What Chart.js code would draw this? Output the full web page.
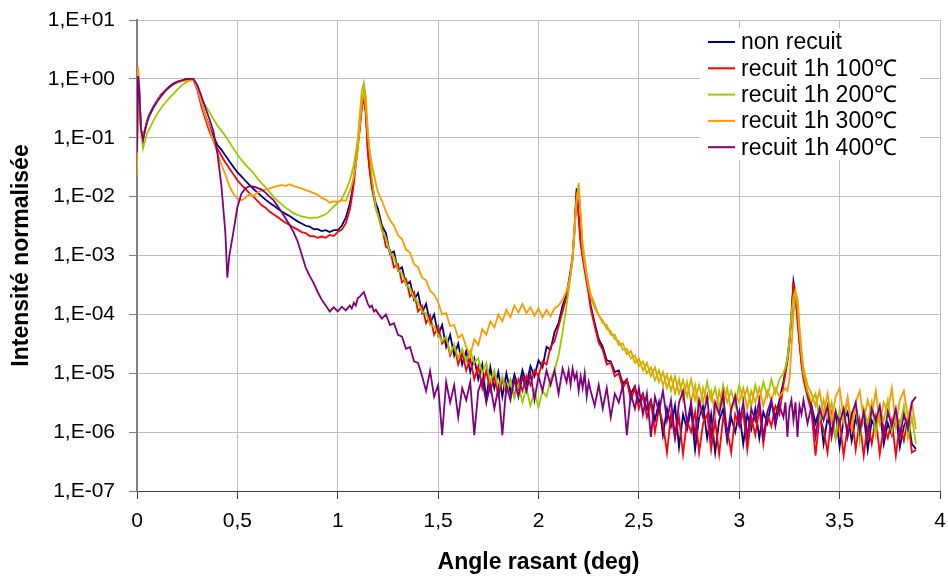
<!DOCTYPE html>
<html lang="fr">
<head>
<meta charset="utf-8">
<title>Réflectivité X – recuits</title>
<script src="https://cdn.jsdelivr.net/npm/chart.js@4.4.1/dist/chart.umd.min.js"></script>
<style>
  html, body { margin: 0; padding: 0; background: #fff; }
  #chart { display: block; }
</style>
</head>
<body>
<canvas id="chart" width="948" height="576"></canvas>
<script>
// Grazing angle (deg), shared by every curve; finer steps around the Bragg peaks
const angles = [
  0, 0.005, 0.01, 0.015, 0.02, 0.03, 0.04, 0.05,
  0.06, 0.08, 0.1, 0.12, 0.14, 0.16, 0.18, 0.2, 0.22, 0.24, 0.26, 0.28,
  0.3, 0.32, 0.34, 0.36, 0.38, 0.4, 0.42, 0.44, 0.45,
  0.46, 0.48, 0.5, 0.52, 0.54, 0.56, 0.58, 0.6,
  0.62, 0.64, 0.66, 0.68, 0.7, 0.72, 0.74, 0.76, 0.78, 0.8,
  0.82, 0.84, 0.86, 0.88, 0.9, 0.92, 0.94, 0.96, 0.98, 1,
  1.02, 1.04, 1.06,
  1.07, 1.08, 1.09, 1.1, 1.11, 1.12, 1.13, 1.14, 1.15, 1.16, 1.17, 1.18, 1.19,
  1.2, 1.22, 1.24, 1.26, 1.28, 1.3, 1.32, 1.34, 1.36, 1.38, 1.4, 1.42, 1.44, 1.46, 1.48,
  1.5, 1.52, 1.54, 1.56, 1.58, 1.6, 1.62, 1.64, 1.66, 1.68, 1.7, 1.72, 1.74, 1.76, 1.78,
  1.8, 1.82, 1.84, 1.86, 1.88, 1.9, 1.92, 1.94, 1.96, 1.98, 2, 2.02, 2.04, 2.06, 2.08, 2.1, 2.12, 2.14,
  2.15, 2.16, 2.17, 2.18, 2.19, 2.2, 2.21, 2.22, 2.23, 2.24, 2.25,
  2.26, 2.28, 2.3, 2.32, 2.34, 2.36, 2.38, 2.4, 2.42, 2.44, 2.46, 2.48, 2.5, 2.52, 2.54, 2.56, 2.58,
  2.6, 2.62, 2.64, 2.66, 2.68, 2.7, 2.72, 2.74, 2.76, 2.78, 2.8, 2.82, 2.84, 2.86, 2.88, 2.9,
  2.92, 2.94, 2.96, 2.98, 3, 3.02, 3.04, 3.06, 3.08, 3.1, 3.12, 3.14, 3.16, 3.18, 3.2, 3.22,
  3.23, 3.24, 3.25, 3.26, 3.27, 3.28, 3.29, 3.3, 3.31,
  3.32, 3.34, 3.36, 3.38, 3.4, 3.42, 3.44, 3.46, 3.48, 3.5, 3.52, 3.54, 3.56, 3.58, 3.6,
  3.62, 3.64, 3.66, 3.68, 3.7, 3.72, 3.74, 3.76, 3.78, 3.8, 3.82, 3.84, 3.86, 3.88
];

// Normalised intensity, one array per sample
const nonRecuit = [
  0.35, 1.12, 0.79, 0.32, 0.14, 0.095, 0.14, 0.19,
  0.24, 0.33, 0.43, 0.54, 0.63, 0.74, 0.83, 0.89, 0.93, 0.98, 1.0, 1.0,
  0.71, 0.4, 0.24, 0.16, 0.105, 0.076, 0.063, 0.05, 0.045,
  0.04, 0.032, 0.026, 0.022, 0.0186, 0.0158, 0.0135, 0.0117,
  0.0102, 0.0089, 0.0079, 0.0071, 0.0063, 0.0056, 0.0051, 0.0047, 0.0042, 0.0038,
  0.0035, 0.0032, 0.0031, 0.0028, 0.0028, 0.0026, 0.0027, 0.0025, 0.0027, 0.0027,
  0.0032, 0.0044, 0.0076,
  0.0112, 0.02, 0.04, 0.079, 0.16, 0.35, 0.55, 0.28, 0.063, 0.028, 0.016, 0.0107, 0.0076,
  6.3e-3, 3.2e-3, 2.4e-3, 1.07e-3, 1.17e-3, 5.6e-4, 6.3e-4, 3.2e-4, 3.6e-4, 1.78e-4, 2.3e-4, 1.07e-4, 1.51e-4, 7.1e-5, 1.0e-4,
  4.5e-5, 6.6e-5, 2.8e-5, 4.5e-5, 2.0e-5, 3.2e-5, 1.41e-5, 2.4e-5, 1.05e-5, 1.78e-5, 7.9e-6, 1.41e-5, 3.5e-6, 1.26e-5, 5.6e-6,
  1.05e-5, 4.0e-6, 1.0e-5, 4.8e-6, 9.5e-6, 5.6e-6, 1.12e-5, 6.6e-6, 1.32e-5, 8.9e-6, 1.66e-5, 1.26e-5, 2.8e-5, 2.5e-5, 5.0e-5, 7.1e-5, 1.41e-4, 2.2e-4,
  3.5e-4, 5.6e-4, 1.0e-3, 3.2e-3, 1.38e-2, 5.0e-3, 1.78e-3, 1.05e-3, 6.3e-4, 4.2e-4, 2.5e-4,
  1.41e-4, 7.1e-5, 3.8e-5, 2.8e-5, 1.66e-5, 1.58e-5, 1.05e-5, 1.12e-5, 6.6e-6, 7.9e-6, 4.5e-6, 6.0e-6, 3.2e-6, 4.5e-6, 2.4e-6, 3.5e-6, 1.58e-6,
  3.2e-6, 8.9e-7, 2.5e-6, 1.26e-6, 2.8e-6, 5.6e-7, 2.0e-6, 1.12e-6, 2.5e-6, 5.0e-7, 1.78e-6, 2.8e-6, 7.9e-7, 2.0e-6, 4.5e-7, 1.58e-6,
  2.5e-6, 7.1e-7, 1.78e-6, 1.0e-6, 2.2e-6, 6.3e-7, 2.0e-6, 1.12e-6, 2.5e-6, 7.9e-7, 2.2e-6, 1.41e-6, 3.2e-6, 1.78e-6, 3.5e-6, 7.1e-6,
  1.12e-5, 1.78e-5, 3.5e-5, 1.0e-4, 3.6e-4, 2.2e-4, 8.9e-5, 3.5e-5, 1.58e-5,
  8.9e-6, 4.5e-6, 2.8e-6, 1.41e-6, 2.5e-6, 6.3e-7, 1.78e-6, 1.0e-6, 2.2e-6, 5.6e-7, 1.58e-6, 2.2e-6, 7.1e-7, 1.78e-6, 8.9e-7,
  2.0e-6, 5.0e-7, 1.58e-6, 1.12e-6, 2.2e-6, 6.3e-7, 1.41e-6, 8.9e-7, 2.0e-6, 5.6e-7, 1.26e-6, 1.78e-6, 6.3e-7, 5.2e-7
];

const recuit100 = [
  0.05, 1.0, 0.71, 0.28, 0.14, 0.093, 0.135, 0.186,
  0.234, 0.32, 0.42, 0.52, 0.63, 0.72, 0.81, 0.87, 0.93, 0.98, 1.0, 0.98,
  0.66, 0.35, 0.21, 0.13, 0.089, 0.066, 0.05, 0.038, 0.034,
  0.03, 0.024, 0.019, 0.0158, 0.0135, 0.0115, 0.01, 0.0085,
  0.0072, 0.0065, 0.0056, 0.005, 0.0045, 0.004, 0.0036, 0.0033, 0.003, 0.00275,
  0.0025, 0.0024, 0.00214, 0.00214, 0.002, 0.0021, 0.002, 0.00224, 0.00214, 0.0025,
  0.00275, 0.0035, 0.006,
  0.0095, 0.0166, 0.035, 0.071, 0.14, 0.32, 0.49, 0.25, 0.056, 0.025, 0.014, 0.0095, 0.0063,
  5.0e-3, 3.0e-3, 1.41e-3, 1.26e-3, 6.3e-4, 7.1e-4, 3.5e-4, 4.0e-4, 2.0e-4, 2.4e-4, 1.12e-4, 1.41e-4, 7.1e-5, 9.5e-5, 4.5e-5,
  6.3e-5, 3.2e-5, 4.0e-5, 2.0e-5, 3.0e-5, 1.41e-5, 2.2e-5, 1.12e-5, 1.78e-5, 7.9e-6, 1.32e-5, 5.6e-6, 1.12e-5, 5.0e-6, 8.9e-6,
  4.2e-6, 7.9e-6, 4.5e-6, 7.6e-6, 4.0e-6, 7.9e-6, 5.0e-6, 8.9e-6, 6.3e-6, 1.12e-5, 8.9e-6, 1.58e-5, 1.41e-5, 2.8e-5, 3.5e-5, 6.3e-5, 1.12e-4, 2.0e-4,
  3.2e-4, 5.0e-4, 8.9e-4, 2.8e-3, 1.2e-2, 4.5e-3, 1.58e-3, 8.9e-4, 5.6e-4, 3.5e-4, 2.2e-4,
  1.26e-4, 6.3e-5, 3.3e-5, 2.5e-5, 1.41e-5, 1.51e-5, 8.9e-6, 1.0e-5, 5.6e-6, 7.6e-6, 3.5e-6, 5.6e-6, 2.5e-6, 4.2e-6, 1.78e-6, 3.2e-6, 1.0e-6,
  2.5e-6, 1.41e-6, 4.5e-7, 2.0e-6, 7.9e-7, 1.78e-6, 4.2e-7, 1.58e-6, 1.0e-6, 2.2e-6, 4.5e-7, 1.41e-6, 2.0e-6, 5.0e-7, 1.58e-6, 4.2e-7,
  1.78e-6, 1.12e-6, 4.5e-7, 2.0e-6, 1.26e-6, 2.2e-6, 5.0e-7, 1.78e-6, 8.9e-7, 2.5e-6, 6.3e-7, 2.0e-6, 1.26e-6, 2.8e-6, 2.0e-6, 6.3e-6,
  1.0e-5, 1.58e-5, 3.2e-5, 8.9e-5, 3.5e-4, 2.0e-4, 7.9e-5, 3.2e-5, 1.41e-5,
  7.9e-6, 4.0e-6, 2.2e-6, 4.0e-7, 1.78e-6, 1.12e-6, 4.5e-7, 2.0e-6, 7.9e-7, 1.58e-6, 4.0e-7, 1.26e-6, 2.0e-6, 5.0e-7, 1.58e-6,
  4.0e-7, 1.41e-6, 6.3e-7, 1.78e-6, 4.2e-7, 1.26e-6, 7.9e-7, 1.58e-6, 4.0e-7, 1.41e-6, 7.1e-7, 1.78e-6, 4.5e-7, 5.0e-7
];

const recuit200 = [
  0.45, 1.0, 0.63, 0.25, 0.12, 0.066, 0.089, 0.117,
  0.138, 0.19, 0.25, 0.32, 0.39, 0.47, 0.55, 0.65, 0.76, 0.85, 0.95, 1.0,
  0.76, 0.47, 0.355, 0.275, 0.21, 0.162, 0.132, 0.107, 0.095,
  0.085, 0.066, 0.052, 0.042, 0.035, 0.0295, 0.025, 0.0204,
  0.017, 0.0145, 0.012, 0.01, 0.0085, 0.0074, 0.0065, 0.0058, 0.0052, 0.0049,
  0.0046, 0.0045, 0.0043, 0.0044, 0.0044, 0.0047, 0.005, 0.0058, 0.0068, 0.0079,
  0.0091, 0.0126, 0.019,
  0.025, 0.035, 0.056, 0.1, 0.25, 0.63, 0.85, 0.5, 0.126, 0.05, 0.021, 0.0112, 0.0063,
  5.0e-3, 2.6e-3, 2.0e-3, 1.1e-3, 9.5e-4, 5.6e-4, 5.0e-4, 3.2e-4, 2.8e-4, 1.9e-4, 1.6e-4, 1.1e-4, 1.05e-4, 6.6e-5, 6.3e-5,
  4.5e-5, 3.5e-5, 4.2e-5, 2.2e-5, 3.0e-5, 1.8e-5, 2.6e-5, 1.6e-5, 2.4e-5, 1.5e-5, 1.8e-5, 1.0e-5, 1.5e-5, 7.1e-6, 1.12e-5,
  5.6e-6, 8.9e-6, 4.5e-6, 7.9e-6, 3.8e-6, 6.3e-6, 3.2e-6, 5.6e-6, 2.8e-6, 5.0e-6, 2.6e-6, 5.0e-6, 4.0e-6, 7.9e-6, 1.12e-5, 2.0e-5, 5.0e-5, 1.41e-4,
  2.5e-4, 4.5e-4, 8.9e-4, 2.5e-3, 8.9e-3, 1.7e-2, 5.0e-3, 1.58e-3, 8.9e-4, 5.0e-4, 3.2e-4,
  2.2e-4, 1.51e-4, 9.5e-5, 7.9e-5, 5.6e-5, 5.2e-5, 3.8e-5, 3.5e-5, 2.5e-5, 2.6e-5, 1.78e-5, 2.0e-5, 1.32e-5, 1.58e-5, 1.0e-5, 1.26e-5, 7.6e-6,
  1.12e-5, 6.3e-6, 9.5e-6, 5.0e-6, 8.9e-6, 4.5e-6, 7.6e-6, 4.0e-6, 7.9e-6, 3.5e-6, 6.3e-6, 3.2e-6, 7.1e-6, 3.5e-6, 5.6e-6, 2.5e-6,
  6.3e-6, 3.2e-6, 5.0e-6, 2.8e-6, 6.3e-6, 3.5e-6, 5.6e-6, 2.8e-6, 6.3e-6, 3.5e-6, 7.1e-6, 4.0e-6, 7.9e-6, 4.5e-6, 7.9e-6, 1.0e-5,
  1.26e-5, 1.78e-5, 3.5e-5, 1.0e-4, 2.0e-4, 2.6e-4, 1.41e-4, 5.0e-5, 2.0e-5,
  1.0e-5, 5.0e-6, 3.2e-6, 4.5e-6, 1.58e-6, 3.5e-6, 1.78e-6, 3.2e-6, 7.9e-7, 2.5e-6, 1.41e-6, 3.5e-6, 1.26e-6, 2.8e-6, 7.1e-7,
  2.5e-6, 1.41e-6, 3.2e-6, 8.9e-7, 2.5e-6, 1.58e-6, 3.5e-6, 1.0e-6, 2.2e-6, 1.26e-6, 2.8e-6, 7.9e-7, 1.78e-6, 6.3e-7
];

const recuit300 = [
  0.022, 1.58, 1.0, 0.32, 0.14, 0.095, 0.14, 0.186,
  0.234, 0.32, 0.42, 0.52, 0.62, 0.72, 0.81, 0.87, 0.91, 0.93, 0.93, 0.95,
  0.71, 0.4, 0.24, 0.15, 0.089, 0.056, 0.035, 0.024, 0.019,
  0.015, 0.0112, 0.0093, 0.0087, 0.0095, 0.011, 0.0102, 0.0117,
  0.0126, 0.0132, 0.0138, 0.0145, 0.0151, 0.0158, 0.0151, 0.0162, 0.0151, 0.0145,
  0.0138, 0.0129, 0.0123, 0.0115, 0.0107, 0.0095, 0.0089, 0.0079, 0.0083, 0.0081,
  0.0087, 0.0085, 0.0126,
  0.0158, 0.022, 0.035, 0.063, 0.16, 0.4, 0.6, 0.32, 0.112, 0.056, 0.035, 0.024, 0.0166,
  1.2e-2, 8.5e-3, 5.6e-3, 4.0e-3, 3.2e-3, 2.2e-3, 1.9e-3, 1.26e-3, 1.12e-3, 7.1e-4, 6.3e-4, 4.2e-4, 3.8e-4, 2.5e-4, 2.2e-4,
  1.6e-4, 1.0e-4, 1.05e-4, 6.3e-5, 6.6e-5, 4.0e-5, 4.5e-5, 2.8e-5, 2.0e-5, 3.8e-5, 3.0e-5, 5.6e-5, 4.5e-5, 7.6e-5, 6.0e-5,
  1.0e-4, 7.6e-5, 1.2e-4, 8.9e-5, 1.41e-4, 1.07e-4, 1.51e-4, 1.05e-4, 1.32e-4, 9.5e-5, 1.26e-4, 8.9e-5, 1.2e-4, 9.3e-5, 1.26e-4, 1.41e-4, 1.78e-4, 2.5e-4,
  3.3e-4, 5.0e-4, 1.0e-3, 3.5e-3, 8.9e-3, 1.38e-2, 5.0e-3, 1.26e-3, 7.1e-4, 4.5e-4, 2.8e-4,
  2.0e-4, 1.26e-4, 1.0e-4, 7.1e-5, 6.6e-5, 4.5e-5, 4.5e-5, 3.0e-5, 3.2e-5, 2.1e-5, 2.4e-5, 1.51e-5, 1.78e-5, 1.12e-5, 1.51e-5, 8.9e-6, 1.26e-5,
  7.1e-6, 1.05e-5, 5.6e-6, 8.9e-6, 4.5e-6, 7.9e-6, 3.5e-6, 7.1e-6, 3.2e-6, 6.3e-6, 2.2e-6, 5.6e-6, 3.2e-6, 5.0e-6, 2.0e-6, 5.0e-6,
  2.8e-6, 5.6e-6, 2.2e-6, 4.5e-6, 3.2e-6, 5.6e-6, 2.5e-6, 5.0e-6, 3.2e-6, 5.6e-6, 2.8e-6, 5.0e-6, 3.5e-6, 5.6e-6, 4.0e-6, 5.0e-6,
  5.6e-6, 5.0e-6, 7.9e-6, 2.5e-5, 1.0e-4, 2.3e-4, 1.9e-4, 6.3e-5, 2.5e-5,
  1.26e-5, 6.3e-6, 4.5e-6, 2.8e-6, 5.0e-6, 2.0e-6, 4.5e-6, 1.58e-6, 4.0e-6, 5.6e-6, 1.78e-6, 4.0e-6, 1.12e-6, 3.2e-6, 5.0e-6,
  1.58e-6, 3.5e-6, 2.0e-6, 5.0e-6, 1.41e-6, 3.2e-6, 2.2e-6, 5.6e-6, 1.26e-6, 3.5e-6, 5.0e-6, 1.78e-6, 3.2e-6, 1.12e-6
];

const recuit400 = [
  0.056, 1.12, 0.79, 0.32, 0.14, 0.093, 0.135, 0.186,
  0.234, 0.32, 0.41, 0.51, 0.62, 0.72, 0.81, 0.89, 0.93, 0.98, 1.0, 1.0,
  0.79, 0.52, 0.33, 0.21, 0.132, 0.056, 0.0158, 0.0025, 0.00042,
  0.001, 0.0025, 0.0066, 0.0112, 0.0138, 0.0151, 0.0148, 0.0141,
  0.0132, 0.0117, 0.01, 0.0087, 0.0069, 0.0055, 0.0043, 0.0033, 0.0025, 0.00174,
  0.00105, 6.3e-4, 4.5e-4, 3.4e-4, 2.4e-4, 1.78e-4, 1.41e-4, 1.12e-4, 1.32e-4, 1.12e-4,
  1.35e-4, 1.17e-4, 1.41e-4,
  1.26e-4, 1.58e-4, 1.41e-4, 1.9e-4, 2.0e-4, 2.2e-4, 2.4e-4, 1.9e-4, 1.51e-4, 1.32e-4, 1.41e-4, 1.12e-4, 1.2e-4,
  1.05e-4, 8.5e-5, 1.0e-4, 6.6e-5, 7.1e-5, 4.5e-5, 4.2e-5, 2.6e-5, 2.8e-5, 1.6e-5, 1.5e-5, 9.0e-6, 5.0e-6, 1.1e-5, 4.0e-6,
  6.3e-6, 8.9e-7, 7.1e-6, 3.2e-6, 6.3e-6, 1.78e-6, 5.6e-6, 3.5e-6, 7.1e-6, 8.9e-7, 5.0e-6, 7.9e-6, 3.2e-6, 6.3e-6, 2.5e-6,
  5.6e-6, 8.9e-7, 6.3e-6, 3.5e-6, 7.9e-6, 4.0e-6, 8.9e-6, 5.0e-6, 1.0e-5, 3.5e-6, 8.9e-6, 5.0e-6, 1.12e-5, 6.3e-6, 1.12e-5, 4.5e-6, 1.2e-5, 7.1e-6,
  1.12e-5, 6.3e-6, 1.2e-5, 7.9e-6, 1.0e-5, 5.0e-6, 8.9e-6, 5.6e-6, 1.0e-5, 4.0e-6, 7.1e-6,
  5.0e-6, 2.8e-6, 6.3e-6, 2.5e-6, 5.6e-6, 1.78e-6, 4.5e-6, 3.2e-6, 6.3e-6, 8.9e-7, 4.5e-6, 2.5e-6, 5.6e-6, 2.0e-6, 4.5e-6, 8.3e-7, 4.0e-6,
  2.2e-6, 5.0e-6, 1.58e-6, 3.5e-6, 8.3e-7, 3.2e-6, 5.0e-6, 1.41e-6, 3.2e-6, 8.3e-7, 3.5e-6, 1.78e-6, 4.0e-6, 8.3e-7, 3.2e-6, 2.0e-6,
  4.5e-6, 8.3e-7, 2.5e-6, 4.0e-6, 1.41e-6, 3.2e-6, 8.3e-7, 2.5e-6, 1.58e-6, 3.5e-6, 8.3e-7, 2.2e-6, 3.5e-6, 1.26e-6, 2.8e-6, 1.78e-6,
  3.2e-6, 8.3e-7, 2.5e-6, 3.5e-6, 1.58e-6, 3.2e-6, 8.3e-7, 2.8e-6, 2.0e-6,
  3.5e-6, 1.41e-6, 2.8e-6, 8.3e-7, 2.5e-6, 1.58e-6, 2.8e-6, 8.3e-7, 2.2e-6, 1.41e-6, 2.5e-6, 8.3e-7, 2.0e-6, 3.2e-6, 1.0e-6,
  2.2e-6, 8.3e-7, 2.5e-6, 1.58e-6, 2.8e-6, 8.3e-7, 2.2e-6, 1.26e-6, 2.5e-6, 8.3e-7, 2.0e-6, 1.12e-6, 3.2e-6, 4.0e-6
];

const seriesLabels = ['non recuit', 'recuit 1h 100℃', 'recuit 1h 200℃', 'recuit 1h 300℃', 'recuit 1h 400℃'];
const seriesValues = [nonRecuit, recuit100, recuit200, recuit300, recuit400];
const seriesColors = ['#000080', '#ff0000', '#99cc00', '#ff9900', '#800080'];

const xTickValues = [0, 0.5, 1, 1.5, 2, 2.5, 3, 3.5, 4];
const yTickValues = [1e1, 1e0, 1e-1, 1e-2, 1e-3, 1e-4, 1e-5, 1e-6, 1e-7];

const FONT = 'Arial, "Liberation Sans", sans-serif';

// "1,E-03" style labels for the log axis
function sciLabel(v) {
  const e = Math.round(Math.log10(v));
  return '1,E' + (e < 0 ? '-' : '+') + String(Math.abs(e)).padStart(2, '0');
}

// Legend drawn inside the plot, on a white patch
const legendBox = {
  id: 'legendBox',
  afterDatasetsDraw(chart) {
    const { ctx } = chart;
    const x0 = 700, y0 = 28, rowH = 26.3;
    ctx.save();
    ctx.fillStyle = '#fff';
    ctx.fillRect(x0, y0, 220, 132);
    ctx.font = '23px ' + FONT;
    ctx.textBaseline = 'middle';
    chart.data.datasets.forEach((ds, i) => {
      const y = y0 + 14 + i * rowH;
      ctx.strokeStyle = ds.borderColor;
      ctx.lineWidth = 2;
      ctx.beginPath();
      ctx.moveTo(x0 + 8, y);
      ctx.lineTo(x0 + 35, y);
      ctx.stroke();
      ctx.fillStyle = '#000';
      ctx.fillText(ds.label, x0 + 41, y + 1);
    });
    ctx.restore();
  }
};

const datasets = seriesLabels.map((label, i) => ({
  label,
  data: angles.map((a, j) => ({ x: a, y: seriesValues[i][j] })),
  borderColor: seriesColors[i],
  backgroundColor: seriesColors[i],
  borderWidth: 1.8,
  pointRadius: 0,
  tension: 0,
  fill: false,
  // last series painted on top
  order: seriesLabels.length - 1 - i
}));

new Chart(document.getElementById('chart'), {
  type: 'line',
  data: { datasets },
  options: {
    responsive: false,
    devicePixelRatio: 1,
    animation: false,
    parsing: false,
    layout: { padding: { top: 20, right: 8, left: 0, bottom: 0 } },
    plugins: {
      legend: { display: false },
      tooltip: { enabled: false }
    },
    scales: {
      x: {
        type: 'linear',
        min: 0,
        max: 4,
        afterBuildTicks: s => { s.ticks = xTickValues.map(v => ({ value: v })); },
        afterFit: s => { s.height = 85; s.paddingLeft = 0; s.paddingRight = 0; },
        ticks: {
          callback: v => String(v).replace('.', ','),
          color: '#000',
          font: { family: FONT, size: 21 },
          padding: 10,
          maxRotation: 0,
          autoSkip: false
        },
        grid: { color: '#c0c0c0', tickColor: '#404040', tickLength: 8 },
        border: { color: '#404040', width: 1 },
        title: {
          display: true,
          text: 'Angle rasant (deg)',
          color: '#000',
          font: { family: FONT, size: 23, weight: 'bold' },
          padding: { top: 0, bottom: 0 }
        }
      },
      y: {
        type: 'logarithmic',
        min: 1e-7,
        max: 10,
        afterBuildTicks: s => { s.ticks = yTickValues.map(v => ({ value: v })); },
        afterFit: s => { s.width = 137; s.paddingTop = 0; s.paddingBottom = 0; },
        ticks: {
          callback: v => sciLabel(v),
          color: '#000',
          font: { family: FONT, size: 21 },
          padding: 14,
          autoSkip: false
        },
        grid: { color: '#c0c0c0', tickColor: '#808080', tickLength: 8 },
        border: { color: '#808080', width: 2 },
        title: {
          display: true,
          text: 'Intensité normalisée',
          color: '#000',
          font: { family: FONT, size: 23, weight: 'bold' },
          padding: { top: 8, bottom: 0 }
        }
      }
    }
  },
  plugins: [legendBox]
});
</script>
</body>
</html>
